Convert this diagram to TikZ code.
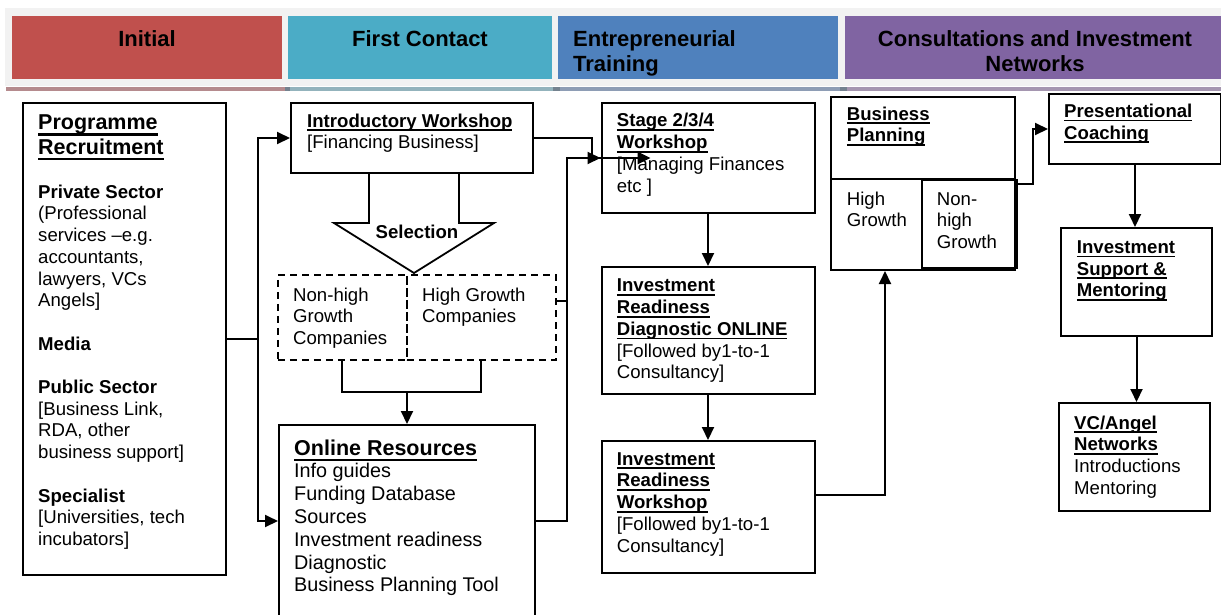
\documentclass[tikz,border=0pt]{standalone}
\usepackage{fontspec}
\setmainfont{Liberation Sans}
\usetikzlibrary{arrows.meta,calc}
\definecolor{cred}{HTML}{C0504D}
\definecolor{cteal}{HTML}{4BACC6}
\definecolor{cblue}{HTML}{4F81BD}
\definecolor{cpurp}{HTML}{8064A2}
\definecolor{hdrbg}{HTML}{F2F2F2}
\definecolor{lred}{HTML}{B58B8E}
\definecolor{lteal}{HTML}{93B3BC}
\definecolor{lblue}{HTML}{8E9DB5}
\definecolor{lpurp}{HTML}{A596B0}
\definecolor{dsq}{HTML}{74828F}
\newcommand\bodyfont{\fontsize{18.6}{21.7}\selectfont}
\newcommand\onlfont{\fontsize{19.8}{22.8}\selectfont}
\newcommand\titlefont{\fontsize{21.5}{24.5}\selectfont\bfseries}
\newcommand\hdrfont{\fontsize{22}{25}\selectfont\bfseries}
\newcommand\tstr{\rule{0pt}{16pt}}
\newcommand\uln[1]{\setbox0\hbox{\textbf{#1}}\rlap{\rule[-0.21em]{\wd0}{0.09em}}\box0}
\newcommand\ulT[1]{\setbox0\hbox{#1}\rlap{\rule[-0.28em]{\wd0}{0.12em}}\box0}
\begin{document}
\begin{tikzpicture}[x=1pt,y=-1pt,
  box/.style={draw, line width=2pt, inner sep=0pt, anchor=north west, rectangle},
  dbox/.style={box, line width=1.8pt, dash pattern=on 7pt off 5pt},
  hbox/.style={inner sep=0pt, anchor=north west, rectangle},
  txt/.style={anchor=north west, inner sep=0pt, align=left, font=\bodyfont},
  htxt/.style={inner sep=0pt, font=\hdrfont},
  ln/.style={line width=2pt},
  arr/.style={line width=2pt, -{Triangle[length=13pt,width=12pt]}}]
\clip (0,0) rectangle (1221,614);
\fill[white] (0,0) rectangle (1221,614);
% header band
\fill[hdrbg] (5,8) rectangle (1221,86);
\node[hbox, fill=cred, minimum width=270pt, minimum height=63pt] (hInit) at (12,16) {};
\node[hbox, fill=cteal, minimum width=264pt, minimum height=63pt] (hFirst) at (288,16) {};
\node[hbox, fill=cblue, minimum width=280pt, minimum height=63pt] (hTrain) at (558,16) {};
\node[hbox, fill=cpurp, minimum width=377pt, minimum height=63pt] (hCons) at (845,16) {};
\node[htxt, anchor=base] (tInit) at (147,46) {Initial};
\node[htxt, anchor=base] (tFirst) at (420,46) {First Contact};
\node[htxt, anchor=north west, align=left] (tTrain) at (573,29) {\rule{0pt}{17pt}Entrepreneurial\\Training};
\node[htxt, anchor=north, align=center] (tCons) at (1035,29) {\rule{0pt}{17pt}Consultations and Investment\\Networks};
\draw[line width=4pt, lred] (6,89) -- (285,89);
\draw[line width=4pt, lteal] (290,89) -- (553,89);
\draw[line width=4pt, lblue] (560,89) -- (840,89);
\draw[line width=4pt, lpurp] (847,89) -- (1221,89);
\draw[line width=4pt, dsq] (285,89) -- (290,89);
\draw[line width=4pt, dsq] (553,89) -- (560,89);
\draw[line width=4pt, dsq] (840,89) -- (847,89);
% selection arrow shape
\draw[line width=1.8pt, fill=white] (369,172) -- (369,223) -- (334,223) -- (414,273) -- (494,223) -- (459,223) -- (459,172);
\node[font=\bodyfont\bfseries, inner sep=0pt] (tSel) at (417,232) {Selection};
% boxes
\node[box, minimum width=203pt, minimum height=472pt] (prog) at (22,102) {};
\node[box, minimum width=242pt, minimum height=70pt] (intro) at (290,102) {};
\node[dbox, minimum width=129pt, minimum height=85pt] (nh) at (277,274) {};
\node[dbox, minimum width=149pt, minimum height=85pt] (hg) at (406,274) {};
\node[box, minimum width=256pt, minimum height=192pt] (online) at (278,424) {};
\node[box, minimum width=213pt, minimum height=110pt] (stage) at (600.5,102) {};
\node[box, minimum width=213pt, minimum height=127pt] (ird) at (600.5,266) {};
\node[box, minimum width=213pt, minimum height=132pt] (irw) at (600.5,440) {};
\node[box, minimum width=184pt, minimum height=173pt] (bp) at (830,96) {};
\node[box, minimum width=95pt, minimum height=88pt] (nhg) at (921,179) {};
\draw[ln] (bp.west |- nhg.north) -- (bp.east |- nhg.north);
\node[box, minimum width=172pt, minimum height=70pt] (pc) at (1048,93) {};
\node[box, minimum width=151pt, minimum height=108pt] (ism) at (1060,227) {};
\node[box, minimum width=151pt, minimum height=108pt] (vc) at (1058,402) {};
% texts
\node[txt, font=\titlefont] (tProgT) at (38,113.5) {\tstr\ulT{Programme}\\\ulT{Recruitment}};
\node[txt] (tProgB) at (38,182) {\tstr\textbf{Private Sector}\\(Professional\\services –e.g.\\accountants,\\lawyers, VCs\\Angels]\\[21.7pt]\textbf{Media}\\[21.7pt]\textbf{Public Sector}\\{[}Business Link,\\RDA, other\\business support]\\[21.7pt]\textbf{Specialist}\\{[}Universities, tech\\incubators]};
\node[txt] (tIntro) at (307,111) {\tstr\uln{Introductory Workshop}\\{[}Financing Business]};
\node[txt] (tNH) at (293,285) {\tstr Non-high\\Growth\\Companies};
\node[txt] (tHG) at (422,285) {\tstr High Growth\\Companies};
\node[txt, font=\titlefont] (tOnlT) at (294,439) {\tstr\ulT{Online Resources}};
\node[txt, font=\onlfont] (tOnl) at (294,461.7) {\tstr Info guides\\Funding Database\\Sources\\Investment readiness\\Diagnostic\\Business Planning Tool};
\node[txt] (tStage) at (616.7,110.7) {\tstr\uln{Stage 2/3/4}\\\uln{Workshop}\\{[}Managing Finances\\etc ]};
\node[txt] (tIrd) at (616.7,275.7) {\tstr\uln{Investment}\\\uln{Readiness}\\\uln{Diagnostic ONLINE}\\{[}Followed by1-to-1\\Consultancy]};
\node[txt] (tIrw) at (616.7,449) {\tstr\uln{Investment}\\\uln{Readiness}\\\uln{Workshop}\\{[}Followed by1-to-1\\Consultancy]};
\node[txt] (tBp) at (846.7,104) {\tstr\uln{Business}\\\uln{Planning}};
\node[txt] (tHGr) at (846.7,189) {\tstr High\\Growth};
\node[txt] (tNHGr) at (936.7,189) {\tstr Non-\\high\\Growth};
\node[txt] (tPc) at (1064,101.3) {\tstr\uln{Presentational}\\\uln{Coaching}};
\node[txt] (tIsm) at (1076.7,237.3) {\tstr\uln{Investment}\\\uln{Support \&}\\\uln{Mentoring}};
\node[txt] (tVc) at (1074,413) {\tstr\uln{VC/Angel}\\\uln{Networks}\\Introductions\\Mentoring};
% connectors
\coordinate (colL) at (258,0);
\coordinate (colS) at (592,0);
\coordinate (colT) at (567,0);
\coordinate (colB) at (885,0);
\coordinate (rowB) at (0,392);
\coordinate (hgR) at ($(hg.north east)+(0,27)$);
\draw[ln] (prog.east) -- (prog.east -| colL);
\draw[arr] (prog.east -| colL) |- (intro.west);
\draw[arr] (prog.east -| colL) |- (online.west);
\draw[ln] (intro.east) -| (colS |- stage.west);
\draw[arr] ($(stage.west)+(-14,0)$) -- (stage.west);
\draw[ln] (online.east) -| (colT |- hgR);
\draw[arr, line width=2.8pt] (hgR) -| (colT |- stage.west) -- ($(stage.west)+(50,0)$);
\draw[ln] (nh.south) -- (nh.south |- rowB) -- (hg.south |- rowB) -- (hg.south);
\draw[arr] (online.north |- rowB) -- (online.north);
\draw[arr] (stage.south) -- (ird.north);
\draw[arr] (ird.south) -- (irw.north);
\draw[arr] ($(irw.east)+(0,-12)$) -| (colB |- bp.south);
\draw[arr] (bp.east) -- ++(17,0) |- (pc.west);
\draw[arr] (pc.south) -- (pc.south |- ism.north);
\draw[arr] (ism.south) -- (ism.south |- vc.north);
\end{tikzpicture}
\end{document}
